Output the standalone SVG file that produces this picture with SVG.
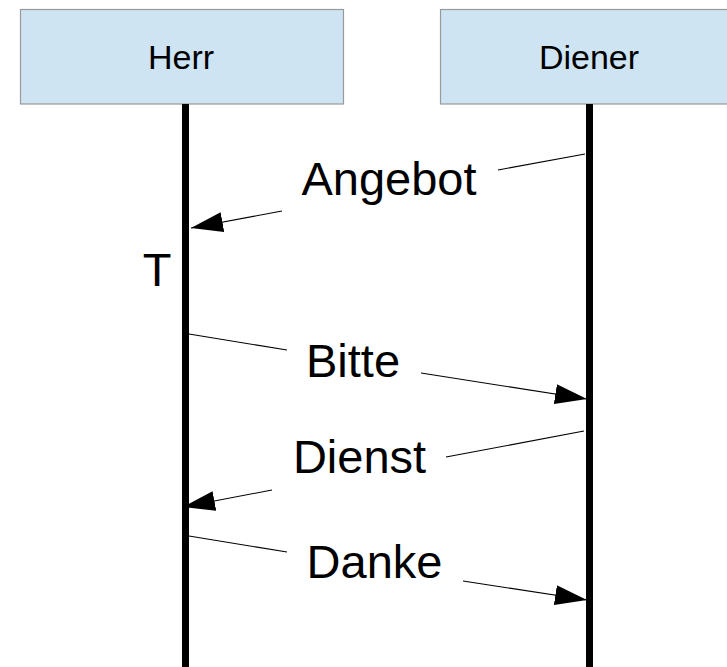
<svg xmlns="http://www.w3.org/2000/svg" width="727" height="667" viewBox="0 0 727 667">
  <style>
    .head { fill: #cfe4f2; stroke: #999999; stroke-width: 1.2; }
    .head-label { font-family: "Liberation Sans", Arial, sans-serif; font-size: 34px; fill: #000; text-anchor: middle; }
    .lifeline { stroke: #000; stroke-width: 7; }
    .msg { stroke: #000; stroke-width: 1.1; fill: none; }
    .msg-label { font-family: "Liberation Sans", Arial, sans-serif; font-size: 47px; fill: #000; text-anchor: middle; }
  </style>
  <defs>
    <marker id="arrow" markerUnits="userSpaceOnUse" markerWidth="34" markerHeight="22" refX="32" refY="10" orient="auto">
      <path d="M0,0 L32,10 L0,20 z" fill="#000"/>
    </marker>
  </defs>
  <rect width="727" height="667" fill="#ffffff"/>

  <g id="herr">
    <rect class="head" x="20.5" y="9.5" width="323" height="94.5"/>
    <text class="head-label" x="181" y="69">Herr</text>
    <line class="lifeline" x1="185.5" y1="104" x2="185.5" y2="667"/>
    <text class="msg-label" x="157" y="286">T</text>
  </g>

  <g id="diener">
    <rect class="head" x="440.5" y="9.5" width="323" height="94.5"/>
    <text class="head-label" x="589" y="69">Diener</text>
    <line class="lifeline" x1="589.5" y1="104" x2="589.5" y2="667"/>
  </g>

  <g id="connectors">
    <g id="angebot">
      <line class="msg" x1="585" y1="154" x2="498" y2="170"/>
      <line class="msg" x1="282" y1="211" x2="191" y2="228" marker-end="url(#arrow)"/>
      <text class="msg-label" x="389" y="195">Angebot</text>
    </g>
    <g id="bitte">
      <line class="msg" x1="189" y1="334" x2="287" y2="350"/>
      <line class="msg" x1="421" y1="373" x2="587" y2="399" marker-end="url(#arrow)"/>
      <text class="msg-label" x="353" y="377">Bitte</text>
    </g>
    <g id="dienst">
      <line class="msg" x1="584" y1="431" x2="446" y2="457"/>
      <line class="msg" x1="272" y1="490" x2="183" y2="507" marker-end="url(#arrow)"/>
      <text class="msg-label" x="359.5" y="473">Dienst</text>
    </g>
    <g id="danke">
      <line class="msg" x1="189" y1="536" x2="287" y2="552"/>
      <line class="msg" x1="463" y1="581" x2="587" y2="600" marker-end="url(#arrow)"/>
      <text class="msg-label" x="374.5" y="578">Danke</text>
    </g>
  </g>
</svg>
